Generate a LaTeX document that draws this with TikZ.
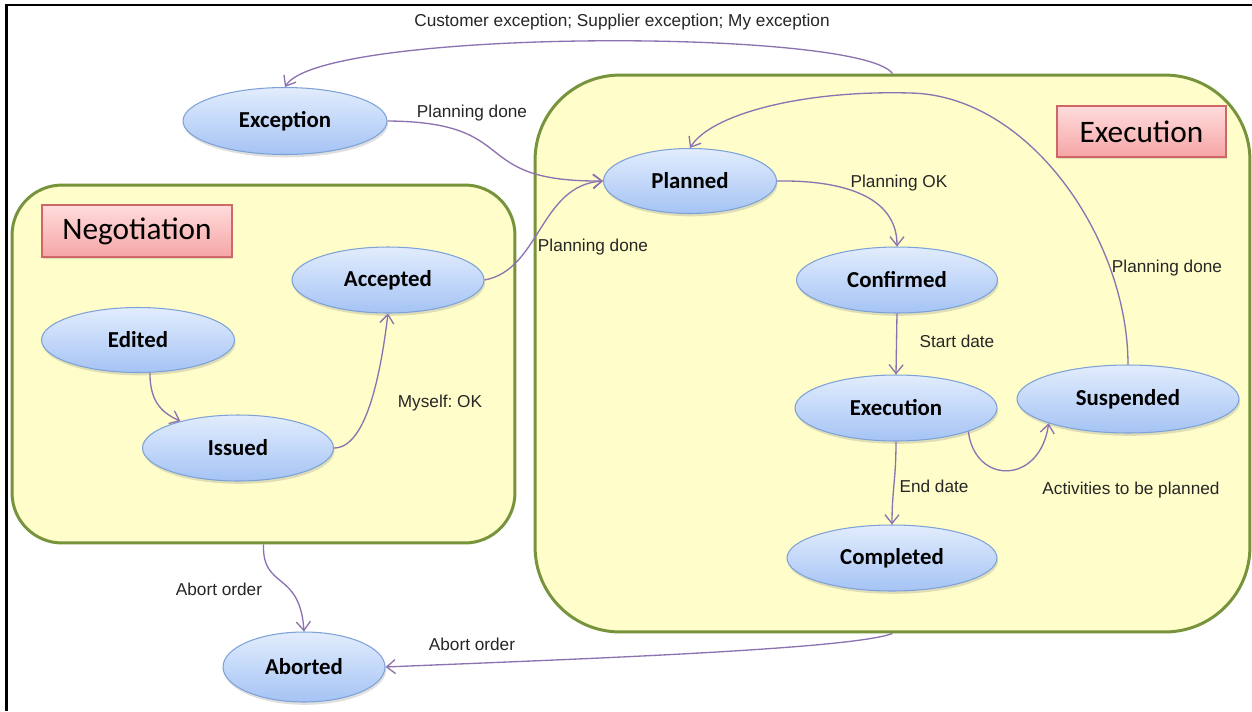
\documentclass[tikz,border=0pt]{standalone}
\usepackage{fontspec}
\setmainfont{Liberation Sans}
\newfontfamily\calib{Carlito}
\usetikzlibrary{shapes.geometric,arrows.meta,shadows}
\definecolor{edgec}{HTML}{8C72B0}
\definecolor{boxfill}{HTML}{FFFDC9}
\definecolor{boxline}{HTML}{77933C}
\definecolor{elltop}{HTML}{E2EDFD}
\definecolor{ellbot}{HTML}{A5C3F4}
\definecolor{elldraw}{HTML}{7DA2D8}
\definecolor{tittop}{HTML}{FFDCDC}
\definecolor{titbot}{HTML}{F6A5A5}
\definecolor{titdraw}{HTML}{CF6767}
\frenchspacing
\begin{document}
\begin{tikzpicture}[x=0.02cm,y=-0.02cm,
 state/.style={ellipse, draw=elldraw, line width=0.6pt, top color=elltop, bottom color=ellbot, inner sep=0pt,
   font=\calib\bfseries\fontsize{13}{15}\selectfont,
   drop shadow={shadow xshift=0.6pt, shadow yshift=-1.6pt, opacity=0.25}},
 region/.style={rectangle, draw=boxline, fill=boxfill, line width=1.7pt, inner sep=0pt},
 titlebox/.style={rectangle, draw=titdraw, line width=0.6pt, top color=tittop, bottom color=titbot, inner sep=0pt,
   font=\calib\fontsize{17.8}{20}\selectfont,
   drop shadow={shadow xshift=0.8pt, shadow yshift=-1.2pt, opacity=0.25}},
 lbl/.style={font=\fontsize{9.8}{11}\selectfont, inner sep=0pt, text=black!85},
 tr/.style={draw=edgec, line width=0.75pt, -{Straight Barb[length=5pt,width=8pt]}}
]
\useasboundingbox (0,0) rectangle (1252,711);
\fill[white] (0,0) rectangle (1252,711);
\draw[line width=1.7pt] (6.5,711) -- (6.5,5) -- (1252,5);

% regions
\node[region, rounded corners=1cm, minimum width=10.06cm, minimum height=7.16cm] (neg) at (263.5,364) {};
\node[region, rounded corners=1.7cm, minimum width=14.3cm, minimum height=11.14cm] (exb) at (892.5,353.5) {};

% titles
\node[titlebox, minimum width=3.8cm, minimum height=1.04cm] (tneg) at (137,231) {Negotiation};
\node[titlebox, minimum width=3.38cm, minimum height=1.02cm] (texe) at (1141.5,131.5) {Execution};

% states
\node[state, minimum width=4.08cm, minimum height=1.34cm] (exc) at (285,121) {Exception};
\node[state, minimum width=3.46cm, minimum height=1.30cm] (pl) at (690,181) {Planned};
\node[state, minimum width=3.84cm, minimum height=1.32cm] (acc) at (388,280) {Accepted};
\node[state, minimum width=3.86cm, minimum height=1.30cm] (ed) at (138,340) {Edited};
\node[state, minimum width=3.82cm, minimum height=1.32cm] (iss) at (238,448) {Issued};
\node[state, minimum width=4.02cm, minimum height=1.32cm] (conf) at (897,280) {Confirmed};
\node[state, minimum width=4.04cm, minimum height=1.32cm] (exe) at (896,408) {Execution};
\node[state, minimum width=4.44cm, minimum height=1.36cm] (sus) at (1128,399) {Suspended};
\node[state, minimum width=4.20cm, minimum height=1.32cm] (comp) at (892,558) {Completed};
\node[state, minimum width=3.24cm, minimum height=1.40cm] (ab) at (304,667) {Aborted};

% transitions
\draw[tr] (exb.north) .. controls (860,28) and (320,28) .. (exc.north);
\draw[tr] (exc.east) .. controls (525,122) and (465,182) .. (pl.west);
\draw[tr] (acc.east) .. controls (540,270) and (540,185) .. (pl.west);
\draw[tr] (ed.-70) .. controls (150,400) and (160,412) .. (iss.155);
\draw[tr] (iss.east) .. controls (365,448) and (380,380) .. (acc.south);
\draw[tr] (pl.east) .. controls (840,180) and (897,195) .. (conf.north);
\draw[tr] (conf.south) -- (exe.north);
\draw[tr] (exe.south) .. controls (896,480) and (892,490) .. (comp.north);
\draw[tr] (exe.-18) .. controls (975,485) and (1040,485) .. (sus.197);
\draw[tr] (sus.north) .. controls (1128,240) and (1030,95) .. (910,93) .. controls (800,90) and (710,115) .. (pl.north);
\draw[tr] (neg.south) .. controls (262,590) and (300,570) .. (ab.north);
\draw[tr] (exb.south) .. controls (850,650) and (550,660) .. (ab.east);

% labels
\node[lbl] (l1) at (622,22) {Customer exception; Supplier exception; My exception};
\node[lbl] (l2) at (472,113) {Planning done};
\node[lbl] (l3) at (593,247) {Planning done};
\node[lbl] (l4) at (440,403) {Myself: OK};
\node[lbl] (l5) at (899,183) {Planning OK};
\node[lbl] (l6) at (957,341) {Start date};
\node[lbl] (l7) at (934,486) {End date};
\node[lbl] (l8) at (1131,490) {Activities to be planned};
\node[lbl] (l9) at (1167,268) {Planning done};
\node[lbl] (l10) at (219,589) {Abort order};
\node[lbl] (l11) at (472,644) {Abort order};
\end{tikzpicture}
\end{document}
